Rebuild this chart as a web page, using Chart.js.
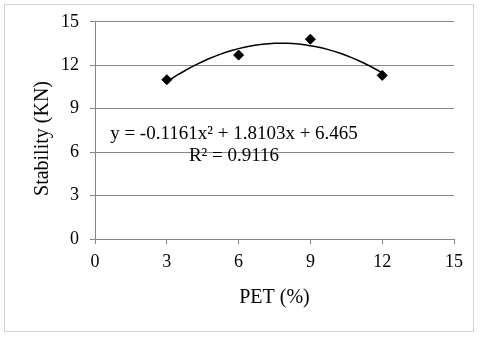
<!DOCTYPE html>
<html>
<head>
<meta charset="utf-8">
<script src="https://cdn.jsdelivr.net/npm/chart.js@4/dist/chart.umd.min.js"></script>
<style>
  html, body { margin: 0; padding: 0; background: #fff; }
  canvas { display: block; }
</style>
</head>
<body>
<canvas id="c" width="480" height="337"></canvas>
<script>
// ---- data ----
const pet = [3, 6, 9, 12];
const stability = [11.0, 12.7, 13.8, 11.3];
// trendline coefficients shown on the chart: y = a x^2 + b x + c
const trendCoef = [-0.1161, 1.8103, 6.465];
const trendRange = [3, 12];
const xTickValues = [0, 3, 6, 9, 12, 15];
const yTickValues = [0, 3, 6, 9, 12, 15];
const xTitle = 'PET (%)';
const yTitle = 'Stability (KN)';
const eqLines = ['y = -0.1161x\u00B2 + 1.8103x + 6.465', 'R\u00B2 = 0.9116'];

const FONT = '"Liberation Serif", "Times New Roman", serif';
const GRID = '#878787';

const points = pet.map((x, i) => ({ x: x, y: stability[i] }));
const trend = [];
for (let x = trendRange[0]; x <= trendRange[1] + 1e-9; x += 0.25) {
  trend.push({ x: x, y: trendCoef[0] * x * x + trendCoef[1] * x + trendCoef[2] });
}

const framePlugin = {
  id: 'frame',
  beforeDraw(chart) {
    const ctx = chart.ctx;
    ctx.save();
    ctx.fillStyle = '#fff';
    ctx.fillRect(0, 0, chart.width, chart.height);
    ctx.strokeStyle = '#d4d4d4';
    ctx.lineWidth = 1;
    ctx.strokeRect(4.5, 4.5, 469, 327);
    ctx.restore();
  },
  afterDraw(chart) {
    const ctx = chart.ctx;
    ctx.save();
    ctx.fillStyle = '#000';
    // y axis title
    ctx.translate(43, 138.5);
    ctx.rotate(-Math.PI / 2);
    ctx.textAlign = 'center';
    ctx.textBaseline = 'middle';
    ctx.font = '20px ' + FONT;
    ctx.fillText(yTitle, 0, 0);
    ctx.restore();
    // trendline equation
    ctx.save();
    ctx.fillStyle = '#000';
    ctx.textAlign = 'center';
    ctx.textBaseline = 'alphabetic';
    ctx.font = '19px ' + FONT;
    ctx.fillText(eqLines[0], 234, 139);
    ctx.fillText(eqLines[1], 234, 161);
    ctx.restore();
  }
};

new Chart(document.getElementById('c'), {
  type: 'scatter',
  data: {
    datasets: [
      {
        label: 'Stability',
        data: points,
        pointStyle: 'rectRot',
        pointRadius: 5,
        pointBackgroundColor: '#000',
        pointBorderColor: '#000',
        pointBorderWidth: 1,
        showLine: false
      },
      {
        label: 'Poly. trend',
        data: trend,
        showLine: true,
        borderColor: '#000',
        borderWidth: 1.5,
        pointRadius: 0,
        fill: false,
        tension: 0
      }
    ]
  },
  options: {
    responsive: false,
    devicePixelRatio: 1,
    animation: false,
    layout: { padding: { left: 0, right: 26, top: 19, bottom: 0 } },
    plugins: {
      legend: { display: false },
      tooltip: { enabled: false }
    },
    scales: {
      x: {
        type: 'linear',
        min: 0, max: 15,
        afterBuildTicks: s => { s.ticks = xTickValues.map(v => ({ value: v })); },
        afterFit: s => { s.height = 98; },
        ticks: { color: '#000', font: { family: FONT, size: 18 }, padding: 7, maxRotation: 0 },
        grid: { drawOnChartArea: false, drawTicks: true, tickLength: 5, color: GRID, lineWidth: 1 },
        border: { display: true, color: GRID, width: 1 },
        title: { display: true, text: xTitle, color: '#000', font: { family: FONT, size: 20 }, padding: { top: 0, bottom: 27 } }
      },
      y: {
        type: 'linear',
        min: 0, max: 15,
        afterBuildTicks: s => { s.ticks = yTickValues.map(v => ({ value: v })); },
        afterFit: s => { s.width = 95; },
        ticks: { color: '#000', font: { family: FONT, size: 18 }, padding: 11 },
        grid: { drawOnChartArea: true, drawTicks: true, tickLength: 5, color: GRID, lineWidth: 1 },
        border: { display: true, color: GRID, width: 1 }
      }
    }
  },
  plugins: [framePlugin]
});
</script>
</body>
</html>
